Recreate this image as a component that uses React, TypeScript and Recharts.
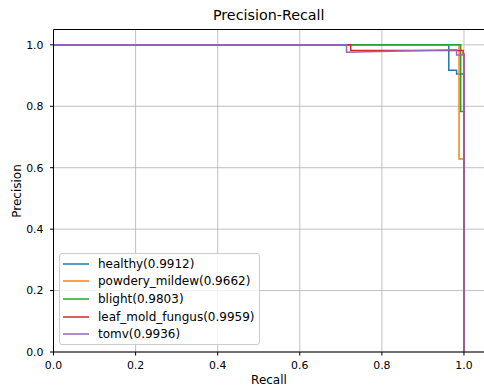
import React from "react";
import {
  LineChart,
  Line,
  XAxis,
  YAxis,
  CartesianGrid,
  ReferenceLine,
} from "recharts";

type Pt = { recall: number; precision: number };

const healthy: Pt[] = [
  { recall: 0, precision: 1 },
  { recall: 0.963, precision: 1 },
  { recall: 0.963, precision: 0.917 },
  { recall: 0.982, precision: 0.917 },
  { recall: 0.982, precision: 0.905 },
  { recall: 1, precision: 0.905 },
  { recall: 1, precision: 0 },
];

const powderyMildew: Pt[] = [
  { recall: 0, precision: 1 },
  { recall: 0.988, precision: 1 },
  { recall: 0.988, precision: 0.628 },
  { recall: 1, precision: 0.628 },
  { recall: 1, precision: 0 },
];

const blight: Pt[] = [
  { recall: 0, precision: 1 },
  { recall: 0.992, precision: 1 },
  { recall: 0.992, precision: 0.783 },
  { recall: 1, precision: 0.783 },
  { recall: 1, precision: 0 },
];

const leafMoldFungus: Pt[] = [
  { recall: 0, precision: 1 },
  { recall: 0.724, precision: 1 },
  { recall: 0.724, precision: 0.982 },
  { recall: 0.998, precision: 0.982 },
  { recall: 0.998, precision: 0.97 },
  { recall: 1, precision: 0.97 },
  { recall: 1, precision: 0 },
];

const tomv: Pt[] = [
  { recall: 0, precision: 1 },
  { recall: 0.714, precision: 1 },
  { recall: 0.714, precision: 0.976 },
  { recall: 0.982, precision: 0.984 },
  { recall: 0.982, precision: 0.967 },
  { recall: 1, precision: 0.967 },
  { recall: 1, precision: 0 },
];

const SERIES = [
  { name: "healthy(0.9912)", color: "#1f77b4", data: healthy },
  { name: "powdery_mildew(0.9662)", color: "#ff7f0e", data: powderyMildew },
  { name: "blight(0.9803)", color: "#2ca02c", data: blight },
  { name: "leaf_mold_fungus(0.9959)", color: "#d62728", data: leafMoldFungus },
  { name: "tomv(0.9936)", color: "#9467bd", data: tomv },
];

const TICKS = [0, 0.2, 0.4, 0.6, 0.8, 1.0];

const FONT = "'DejaVu Sans', sans-serif";

export default function App() {
  const tickStyle = { fill: "#000", fontSize: 10.9, fontFamily: FONT };
  return (
    <div
      style={{
        position: "absolute",
        left: 0,
        top: 0,
        width: 484,
        height: 388,
        background: "#fff",
        overflow: "hidden",
        fontFamily: FONT,
      }}
    >
      <div
        style={{
          position: "absolute",
          left: 0,
          width: 537.5,
          top: 5,
          lineHeight: "20px",
          textAlign: "center",
          fontSize: 14.3,
          color: "#000",
        }}
      >
        Precision-Recall
      </div>
      <div
        style={{
          position: "absolute",
          left: 0,
          width: 538,
          top: 371,
          lineHeight: "18px",
          textAlign: "center",
          fontSize: 12,
          color: "#000",
        }}
      >
        Recall
      </div>
      <div
        style={{
          position: "absolute",
          left: 17,
          top: 191,
          transform: "translate(-50%, -50%) rotate(-90deg)",
          fontSize: 12,
          lineHeight: "14px",
          color: "#000",
          whiteSpace: "nowrap",
        }}
      >
        Precision
      </div>
      <LineChart
        width={484}
        height={388}
        data={healthy}
        margin={{ top: 29.5, right: -0.5, left: 0, bottom: 0 }}
        style={{ position: "absolute", left: 0, top: 0 }}
      >
        <CartesianGrid stroke="#b0b0b0" strokeWidth={0.8} />
        <XAxis
          type="number"
          dataKey="recall"
          domain={[0, 1.05]}
          ticks={TICKS}
          allowDataOverflow
          height={36}
          tickSize={3.5}
          tickMargin={5.5}
          tickFormatter={(v: number) => v.toFixed(1)}
          tick={tickStyle}
          stroke="#000"
          interval={0}
        />
        <YAxis
          type="number"
          dataKey="precision"
          domain={[0, 1.05]}
          ticks={TICKS}
          allowDataOverflow
          width={53.5}
          tickSize={3.5}
          tickMargin={6.5}
          tickFormatter={(v: number) => v.toFixed(1)}
          tick={tickStyle}
          stroke="#000"
          interval={0}
        />
        <ReferenceLine y={1.05} stroke="#000" strokeWidth={1} />
        {SERIES.map((s) => (
          <Line
            key={s.name}
            data={s.data}
            dataKey="precision"
            type="linear"
            stroke={s.color}
            strokeWidth={1.5}
            dot={false}
            activeDot={false}
            isAnimationActive={false}
          />
        ))}
      </LineChart>
      <div
        style={{
          position: "absolute",
          left: 59,
          top: 253,
          width: 201,
          height: 92,
          border: "1px solid #cccccc",
          borderRadius: 3,
          background: "rgba(255,255,255,0.8)",
          boxSizing: "border-box",
          paddingTop: 1,
        }}
      >
        {SERIES.map((s) => (
          <div
            key={s.name}
            style={{
              height: 17.6,
              display: "flex",
              alignItems: "center",
              fontSize: 12,
              color: "#000",
              whiteSpace: "nowrap",
            }}
          >
            <svg width={26} height={4} style={{ marginLeft: 3, marginRight: 9 }}>
              <line x1={0} y1={2} x2={26} y2={2} stroke={s.color} strokeWidth={1.5} />
            </svg>
            <span>{s.name}</span>
          </div>
        ))}
      </div>
    </div>
  );
}
